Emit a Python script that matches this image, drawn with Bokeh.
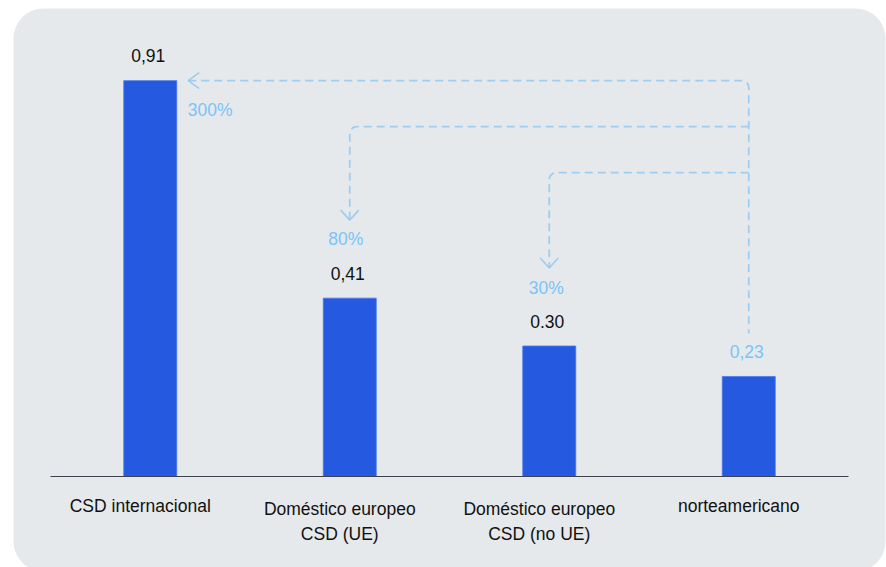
import math
from bokeh.plotting import figure
from bokeh.models import FactorRange, Range1d, BoxAnnotation
from bokeh.embed import file_html
from bokeh.resources import INLINE
from bokeh.core.properties import value

# ---------------- data ----------------
categories = ["CSD internacional", "Doméstico europeo CSD (UE)",
              "Doméstico europeo CSD (no UE)", "norteamericano"]
tick_labels = ["CSD internacional", "Doméstico europeo\nCSD (UE)",
               "Doméstico europeo\nCSD (no UE)", "norteamericano"]
values = [0.91, 0.41, 0.30, 0.23]
value_labels = ["0,91", "0,41", "0.30", "0,23"]
pct_labels = ["300%", "80%", "30%"]   # difference vs. norteamericano

# ---------------- geometry (pixels -> data) ----------------
W, H = 886, 567
FRAME_LEFT = 12
UX = 199.5          # px per category
BASE = 476          # px y of zero line
UY = 435.0          # px per unit of value
n = len(categories)
half_pad = ((W - FRAME_LEFT) / UX - n) / 2.0

def dx(px):
    return px / UX

def dy(px):
    return px / UY

def xpx(px):
    return (px - FRAME_LEFT) / UX - half_pad

def ypx(py):
    return (BASE - py) / UY

centers = [i + 0.5 for i in range(n)]

x_range = FactorRange(factors=categories, range_padding=2 * half_pad / n,
                      range_padding_units="percent")
y_range = Range1d(-(H - BASE) / UY, BASE / UY)

p = figure(width=W, height=H, x_range=x_range, y_range=y_range,
           output_backend="svg", toolbar_location=None,
           min_border_left=FRAME_LEFT, min_border_right=0,
           min_border_top=0, min_border_bottom=0,
           x_axis_location=None, y_axis_location=None,
           background_fill_color="white", border_fill_color="white",
           outline_line_color=None)
p.grid.grid_line_color = None

# panel
panel = BoxAnnotation(left=xpx(13), right=xpx(885), top=ypx(8), bottom=ypx(571),
                      fill_color="#e5e9ec", fill_alpha=1.0, line_color=None,
                      border_radius=30, level="underlay")
p.add_layout(panel)

FONT = value("Liberation Sans")
FS = "17.5px"

# bars
p.vbar(x=categories, top=values, bottom=0, width=dx(53),
       fill_color="#2459e0", line_color="#4a78ea", line_width=0.8)

# baseline axis line
p.segment(x0=[0], y0=[0], x1=[n], y1=[0], line_color="#3d424a", line_width=1.2)

# value labels
val_colors = ["#111111", "#111111", "#111111", "#7cc3f7"]
p.text(x=[c - dx(2) for c in centers], y=[v + dy(25) for v in values],
       text=value_labels, text_color=val_colors, text_font=FONT,
       text_font_size=FS, text_align="center", text_baseline="alphabetic")

# category labels
l1 = [t.split("\n")[0] for t in tick_labels]
l2 = [t.split("\n")[1] if "\n" in t else "" for t in tick_labels]
l1_y = [-dy(32) if "\n" in t else -dy(29) for t in tick_labels]
p.text(x=[c - dx(10) for c in centers], y=l1_y, text=l1,
       text_color="#111111", text_font=FONT, text_font_size=FS,
       text_align="center", text_baseline="alphabetic")
p.text(x=[c - dx(10) for c in centers], y=[-dy(57)] * n, text=l2,
       text_color="#111111", text_font=FONT, text_font_size=FS,
       text_align="center", text_baseline="alphabetic")

# ---------------- arrows ----------------
ARROW = "#9fcdef"
R = 7  # corner radius px

def corner(xc, yc, a0, a1, steps=6):
    pts = []
    for k in range(steps + 1):
        a = a0 + (a1 - a0) * k / steps
        pts.append((xc + dx(R) * math.cos(a), yc + dy(R) * math.sin(a)))
    return pts

trunk_x = centers[3]
xs_paths, ys_paths = [], []

# arrow 1: from norteamericano up and left to bar 1 top
y1 = values[0]
tip1 = centers[0] + dx(38)
pts = [(tip1, y1)]
pts += corner(trunk_x - dx(R), y1 - dy(R), math.pi / 2, 0)
pts.append((trunk_x, values[3] + dy(43)))
xs_paths.append([q[0] for q in pts]); ys_paths.append([q[1] for q in pts])

# arrows 2 and 3
levels = [y1 - dy(46), y1 - dy(92)]
tips = []
for j, lvl in zip([1, 2], levels):
    tip_y = values[j] + dy(78)
    tips.append((centers[j], tip_y))
    pts = [(trunk_x, lvl)]
    pts += corner(centers[j] + dx(R), lvl - dy(R), math.pi / 2, math.pi)
    pts.append((centers[j], tip_y))
    xs_paths.append([q[0] for q in pts]); ys_paths.append([q[1] for q in pts])

p.multi_line(xs=xs_paths, ys=ys_paths, line_color=ARROW, line_width=1.8,
             line_dash="8 5")

# arrow heads
hx = [[tip1 + dx(11), tip1, tip1 + dx(11)]]
hy = [[y1 + dy(8), y1, y1 - dy(8)]]
for (tx, ty) in tips:
    hx.append([tx - dx(9), tx, tx + dx(9)])
    hy.append([ty + dy(10), ty, ty + dy(10)])
p.multi_line(xs=hx, ys=hy, line_color=ARROW, line_width=1.7)

# percent labels
pct_x = [tip1 + dx(22), tips[0][0] - dx(4), tips[1][0] - dx(3)]
pct_y = [y1 - dy(29), tips[0][1] - dy(19), tips[1][1] - dy(20)]
p.text(x=pct_x, y=pct_y, text=pct_labels, text_color="#7cc3f7", text_font=FONT,
       text_font_size=FS, text_align="center", text_baseline="alphabetic")

open("out.html", "w").write(file_html(p, INLINE))
